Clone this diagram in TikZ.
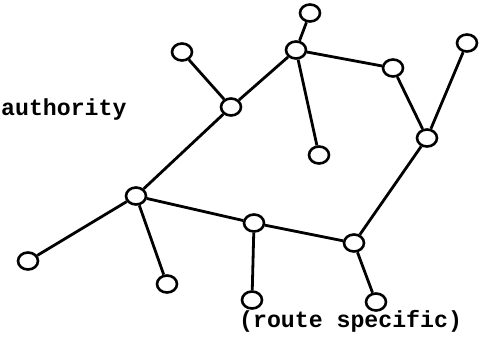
\documentclass[tikz,border=0pt]{standalone}
\usepackage{fontspec}
\setmonofont{Liberation Mono}
\usetikzlibrary{shapes.geometric}
\begin{document}
\begin{tikzpicture}[x=1pt,y=-1pt,
  nd/.style={draw,ellipse,line width=2.6pt,fill=white,minimum width=20pt,minimum height=17pt,inner sep=0pt},
  ln/.style={line width=2.8pt},
  lbl/.style={font=\ttfamily\bfseries\fontsize{23.2}{25}\selectfont,inner sep=0pt}]
\useasboundingbox (0,0) rectangle (479,340);
\node[nd] (A) at (310,13) {};
\node[nd] (B) at (296,50) {};
\node[nd] (C) at (393,68) {};
\node[nd] (D) at (467,43) {};
\node[nd] (E) at (427,138) {};
\node[nd] (F) at (319,155) {};
\node[nd] (G) at (182,52) {};
\node[nd] (H) at (231,107) {};
\node[nd] (I) at (136,196) {};
\node[nd] (J) at (28,261) {};
\node[nd] (K) at (167,284) {};
\node[nd] (L) at (254,223) {};
\node[nd] (M) at (354,243) {};
\node[nd] (N) at (252,300) {};
\node[nd] (O) at (376,302) {};
\draw[ln] (A) -- (B);
\draw[ln] (B) -- (C);
\draw[ln] (B) -- (F);
\draw[ln] (B) -- (H);
\draw[ln] (C) -- (E);
\draw[ln] (D) -- (E);
\draw[ln] (E) -- (M);
\draw[ln] (G) -- (H);
\draw[ln] (H) -- (I);
\draw[ln] (I) -- (J);
\draw[ln] (I) -- (K);
\draw[ln] (I) -- (L);
\draw[ln] (L) -- (M);
\draw[ln] (L) -- (N);
\draw[ln] (M) -- (O);
\node[lbl,anchor=base west] (auth) at (1,115) {authority};
\node[lbl,anchor=base west] (rs) at (239,327) {(route specific)};
\end{tikzpicture}
\end{document}
